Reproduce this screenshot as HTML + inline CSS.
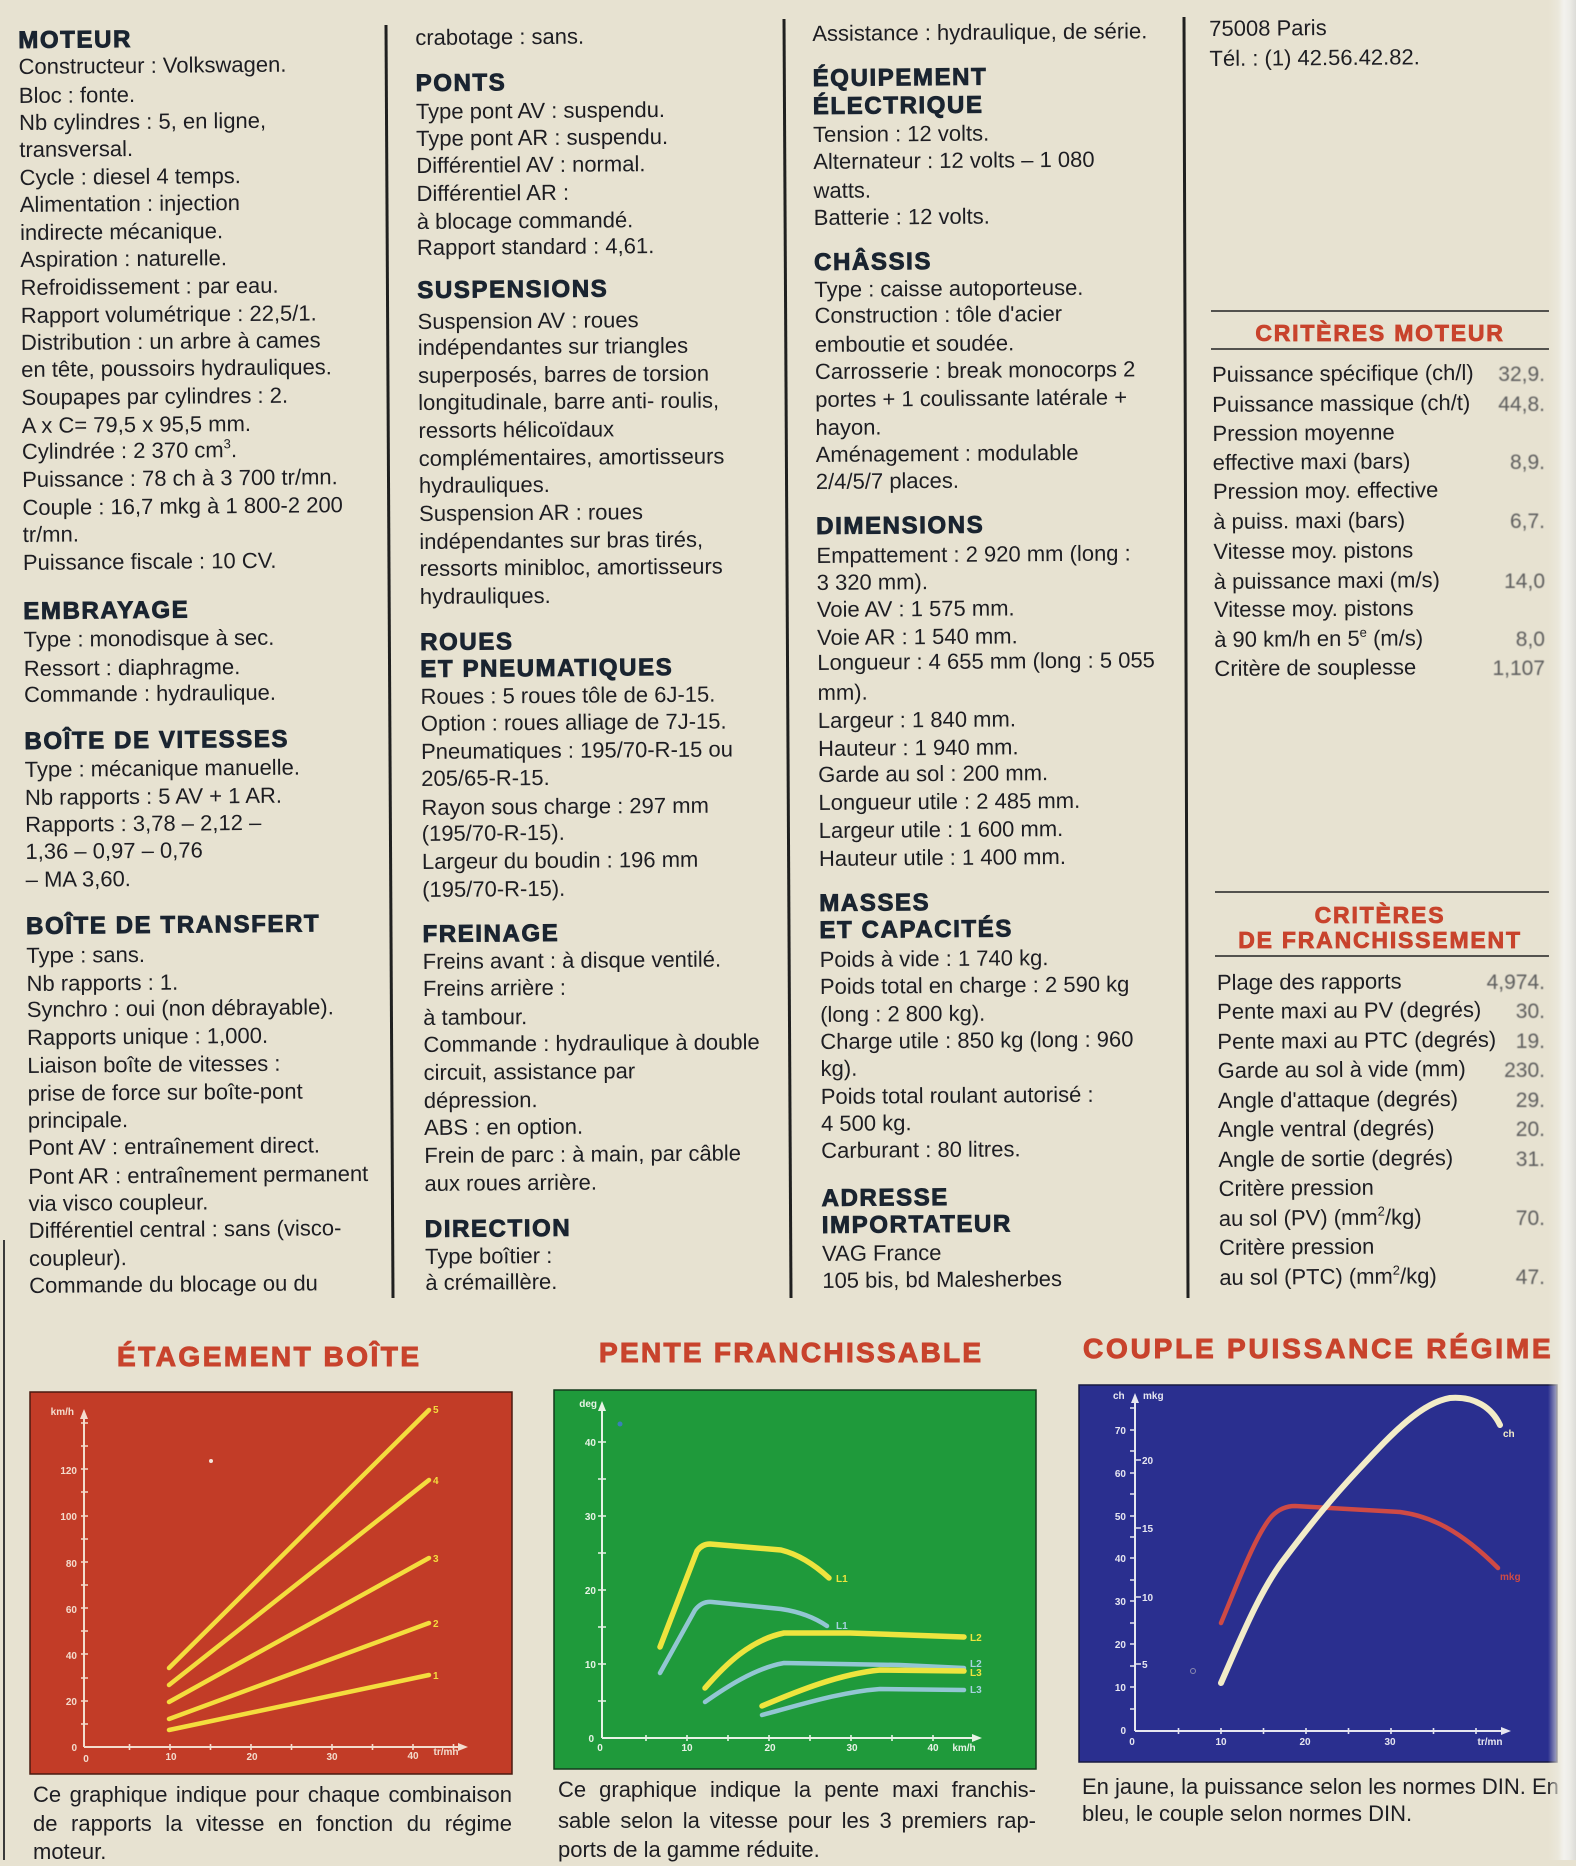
<!DOCTYPE html>
<html><head><meta charset="utf-8">
<style>
html,body{margin:0;padding:0;}
body{width:1576px;height:1860px;overflow:hidden;position:relative;background:#e7e2d1;font-family:"Liberation Sans",sans-serif;}
.c{position:absolute;top:0;transform-origin:0 0;}
.t{position:absolute;left:0;white-space:nowrap;font:22px/28px "Liberation Sans",sans-serif;color:#1d1d22;}
.h{position:absolute;left:0;white-space:nowrap;font:bold 24px/28px "Liberation Sans",sans-serif;letter-spacing:1.6px;color:#1a2430;-webkit-text-stroke:0.9px #1a2430;}
.v{position:absolute;right:31px;white-space:nowrap;font:21px/28px "Liberation Sans",sans-serif;color:#5e5e5e;filter:blur(0.5px);}
.rh{position:absolute;left:1211px;width:338px;text-align:center;white-space:nowrap;font:bold 23px/28px "Liberation Sans",sans-serif;letter-spacing:1.8px;color:#c8432c;-webkit-text-stroke:0.8px #c8432c;}
.ti{position:absolute;white-space:nowrap;font:bold 28px/32px "Liberation Sans",sans-serif;color:#c8432c;-webkit-text-stroke:1px #c8432c;}
.cap{position:absolute;white-space:nowrap;font:22px/29px "Liberation Sans",sans-serif;color:#1d1d22;}
.j{text-align:justify;text-align-last:justify;white-space:normal;}
sup{font-size:13px;line-height:0;vertical-align:9px;}
svg text{font-family:"Liberation Sans",sans-serif;font-weight:bold;}
</style></head><body>

<svg width="1576" height="1860" style="position:absolute;left:0;top:0" xmlns="http://www.w3.org/2000/svg">
<g stroke="#202020" stroke-width="3">
<line x1="386" y1="25" x2="393" y2="1298"/>
<line x1="784" y1="19" x2="791" y2="1298"/>
<line x1="1184" y1="17" x2="1188" y2="1298"/>
</g>
<line x1="4" y1="1240" x2="4" y2="1860" stroke="#3a3a3a" stroke-width="2"/>
<g stroke="#222" stroke-width="1.6">
<line x1="1211" y1="311" x2="1549" y2="311"/>
<line x1="1211" y1="349" x2="1549" y2="349"/>
<line x1="1215" y1="892" x2="1549" y2="892"/>
<line x1="1215" y1="956" x2="1549" y2="956"/>
</g>

<!-- CHART 1 -->
<rect x="30" y="1392" width="482" height="382" fill="#c23c27" stroke="#4a1a10" stroke-width="1.5"/>
<g stroke="#f3dccd" stroke-width="2" fill="none">
<line x1="84" y1="1747" x2="84" y2="1413"/>
<line x1="84" y1="1747" x2="463" y2="1747"/>
<path d="M81,1724H88M81,1701H88M81,1678H88M81,1654H88M81,1631H88M81,1608H88M81,1585H88M81,1562H88M81,1539H88M81,1516H88M81,1492H88M81,1469H88M81,1446H88M81,1423H88" stroke-width="1.6"/>
<path d="M129.5,1744V1750M170,1744V1750M210.5,1744V1750M251,1744V1750M291.5,1744V1750M332,1744V1750M372.5,1744V1750M413,1744V1750M453.5,1744V1750" stroke-width="1.6"/>
</g>
<polygon points="80,1419 84,1409 88,1419" fill="#f3dccd"/>
<polygon points="458,1743 468,1747 458,1751" fill="#f3dccd"/>
<g fill="#f3dccd" font-size="10" text-anchor="end">
<text x="74" y="1415">km/h</text>
<text x="77" y="1751">0</text><text x="77" y="1705">20</text><text x="77" y="1659">40</text><text x="77" y="1613">60</text><text x="77" y="1567">80</text><text x="77" y="1520">100</text><text x="77" y="1474">120</text>
</g>
<g fill="#f3dccd" font-size="10" text-anchor="middle">
<text x="86" y="1762">0</text><text x="171" y="1760">10</text><text x="252" y="1760">20</text><text x="332" y="1760">30</text><text x="413" y="1759">40</text><text x="446" y="1755">tr/mn</text>
</g>
<g stroke="#f4dd3e" stroke-width="4.5" stroke-linecap="round">
<line x1="169" y1="1668" x2="429" y2="1410"/>
<line x1="169" y1="1685" x2="429" y2="1480"/>
<line x1="169" y1="1702" x2="429" y2="1558"/>
<line x1="169" y1="1719" x2="429" y2="1623"/>
<line x1="169" y1="1730" x2="429" y2="1675"/>
</g>
<g fill="#f4dd3e" font-size="10">
<text x="433" y="1413">5</text><text x="433" y="1484">4</text><text x="433" y="1562">3</text><text x="433" y="1627">2</text><text x="433" y="1679">1</text>
</g>
<circle cx="211" cy="1461" r="2" fill="#f4e6dc"/>

<!-- CHART 2 -->
<rect x="554" y="1390" width="482" height="379" fill="#1f9a3b" stroke="#143a1c" stroke-width="1.5"/>
<g stroke="#e8f3e6" stroke-width="2" fill="none">
<line x1="602" y1="1738" x2="602" y2="1405"/>
<line x1="602" y1="1738" x2="977" y2="1738"/>
<path d="M598,1701H606M598,1664H606M598,1627H606M598,1590H606M598,1553H606M598,1516H606M598,1479H606M598,1442H606" stroke-width="1.6"/>
<path d="M646,1735V1741M687,1735V1741M728,1735V1741M769,1735V1741M810,1735V1741M851,1735V1741M892,1735V1741M933,1735V1741" stroke-width="1.6"/>
</g>
<polygon points="598,1411 602,1401 606,1411" fill="#e8f3e6"/>
<polygon points="972,1734 982,1738 972,1742" fill="#e8f3e6"/>
<g fill="#e8f3e6" font-size="10" text-anchor="end">
<text x="597" y="1407">deg</text>
<text x="594" y="1742">0</text><text x="596" y="1668">10</text><text x="596" y="1594">20</text><text x="596" y="1520">30</text><text x="596" y="1446">40</text>
</g>
<g fill="#e8f3e6" font-size="10" text-anchor="middle">
<text x="600" y="1751">0</text><text x="687" y="1751">10</text><text x="770" y="1751">20</text><text x="852" y="1751">30</text><text x="933" y="1751">40</text><text x="964" y="1751">km/h</text>
</g>
<g fill="none" stroke-linecap="round" stroke-linejoin="round">
<path d="M660,1647 L697,1551 Q702,1544 710,1544 L781,1550 Q805,1556 829,1578" stroke="#eee43e" stroke-width="5.5"/>
<path d="M660,1673 L695,1610 Q702,1601 712,1602 L781,1609 Q808,1613 827,1626" stroke="#93c6d3" stroke-width="4.5"/>
<path d="M705,1688 C725,1665 750,1640 784,1633 L850,1633 L964,1637" stroke="#eee43e" stroke-width="5.5"/>
<path d="M705,1702 C725,1688 755,1668 784,1663 L900,1665 L964,1668" stroke="#93c6d3" stroke-width="4.5"/>
<path d="M762,1706 C800,1690 840,1674 880,1670 L964,1671" stroke="#eee43e" stroke-width="5.5"/>
<path d="M762,1715 C800,1705 840,1692 880,1689 L964,1690" stroke="#93c6d3" stroke-width="4.5"/>
</g>
<g font-size="10">
<text x="836" y="1582" fill="#eee43e">L1</text>
<text x="836" y="1629" fill="#a6d3df">L1</text>
<text x="970" y="1641" fill="#eee43e">L2</text>
<text x="970" y="1667" fill="#a6d3df">L2</text>
<text x="970" y="1676" fill="#eee43e">L3</text>
<text x="970" y="1693" fill="#a6d3df">L3</text>
</g>
<circle cx="620" cy="1424" r="2.5" fill="#3a7fb8"/>

<!-- CHART 3 -->
<rect x="1079" y="1385" width="478" height="377" fill="#2a2f8f" stroke="#181a40" stroke-width="1.5"/>
<g stroke="#e6e6f0" stroke-width="2" fill="none">
<line x1="1135" y1="1731" x2="1135" y2="1396"/>
<line x1="1135" y1="1731" x2="1506" y2="1731"/>
<path d="M1130,1709H1135M1130,1687H1135M1130,1666H1135M1130,1644H1135M1130,1623H1135M1130,1601H1135M1130,1580H1135M1130,1558H1135M1130,1537H1135M1130,1516H1135M1130,1494H1135M1130,1473H1135M1130,1451H1135M1130,1430H1135M1130,1408H1135" stroke-width="1.6"/>
<path d="M1135,1664H1141M1135,1597H1141M1135,1528H1141M1135,1460H1141" stroke-width="1.6"/>
<path d="M1178.5,1728V1734M1221,1728V1734M1263.5,1728V1734M1306,1728V1734M1348.5,1728V1734M1391,1728V1734M1433.5,1728V1734M1476,1728V1734" stroke-width="1.6"/>
</g>
<polygon points="1131,1403 1135,1393 1139,1403" fill="#e6e6f0"/>
<polygon points="1501,1727 1511,1731 1501,1735" fill="#e6e6f0"/>
<g fill="#e6e6f0" font-size="10" text-anchor="end">
<text x="1126" y="1734">0</text><text x="1126" y="1691">10</text><text x="1126" y="1648">20</text><text x="1126" y="1605">30</text><text x="1126" y="1562">40</text><text x="1126" y="1520">50</text><text x="1126" y="1477">60</text><text x="1126" y="1434">70</text>
</g>
<g fill="#e6e6f0" font-size="10">
<text x="1142" y="1668">5</text><text x="1142" y="1601">10</text><text x="1142" y="1532">15</text><text x="1142" y="1464">20</text>
<text x="1113" y="1399">ch</text><text x="1143" y="1399">mkg</text>
</g>
<g fill="#e6e6f0" font-size="10" text-anchor="middle">
<text x="1132" y="1745">0</text><text x="1221" y="1745">10</text><text x="1305" y="1745">20</text><text x="1390" y="1745">30</text><text x="1490" y="1745">tr/mn</text>
</g>
<g fill="none" stroke-linecap="round" stroke-linejoin="round">
<path d="M1221,1623 C1235,1590 1255,1535 1272,1516 Q1282,1506 1295,1506 L1330,1508 L1400,1512 C1430,1516 1460,1530 1498,1568" stroke="#cf4a45" stroke-width="4.5"/>
<path d="M1221,1683 C1240,1640 1260,1590 1285,1558 C1310,1525 1330,1500 1360,1468 C1390,1436 1420,1403 1450,1398 C1475,1396 1492,1408 1500,1425" stroke="#f2ecc8" stroke-width="6"/>
</g>
<text x="1503" y="1437" font-size="10" fill="#f2ecc8">ch</text>
<text x="1500" y="1580" font-size="10" fill="#cf4a45">mkg</text>
<circle cx="1193" cy="1671" r="2.5" fill="none" stroke="#8a8ab0" stroke-width="1"/>
</svg>

<!-- COLUMN 1 -->
<div class="c" style="left:18px;transform:rotate(-0.5deg)">
<div class="h" style="top:27px">MOTEUR</div>
<div class="t" style="top:53px">Constructeur : Volkswagen.</div>
<div class="t" style="top:82px">Bloc : fonte.</div>
<div class="t" style="top:109px">Nb cylindres : 5, en ligne,</div>
<div class="t" style="top:136px">transversal.</div>
<div class="t" style="top:164px">Cycle : diesel 4 temps.</div>
<div class="t" style="top:191px">Alimentation : injection</div>
<div class="t" style="top:219px">indirecte mécanique.</div>
<div class="t" style="top:246px">Aspiration : naturelle.</div>
<div class="t" style="top:274px">Refroidissement : par eau.</div>
<div class="t" style="top:302px">Rapport volumétrique : 22,5/1.</div>
<div class="t" style="top:329px">Distribution : un arbre à cames</div>
<div class="t" style="top:356px">en tête, poussoirs hydrauliques.</div>
<div class="t" style="top:384px">Soupapes par cylindres : 2.</div>
<div class="t" style="top:412px">A x C= 79,5 x 95,5 mm.</div>
<div class="t" style="top:438px">Cylindrée : 2 370 cm<sup>3</sup>.</div>
<div class="t" style="top:466px">Puissance : 78 ch à 3 700 tr/mn.</div>
<div class="t" style="top:494px">Couple : 16,7 mkg à 1 800-2 200</div>
<div class="t" style="top:521px">tr/mn.</div>
<div class="t" style="top:549px">Puissance fiscale : 10 CV.</div>
<div class="h" style="top:598px">EMBRAYAGE</div>
<div class="t" style="top:626px">Type : monodisque à sec.</div>
<div class="t" style="top:655px">Ressort : diaphragme.</div>
<div class="t" style="top:681px">Commande : hydraulique.</div>
<div class="h" style="top:728px">BOÎTE DE VITESSES</div>
<div class="t" style="top:756px">Type : mécanique manuelle.</div>
<div class="t" style="top:784px">Nb rapports : 5 AV + 1 AR.</div>
<div class="t" style="top:811px">Rapports : 3,78 – 2,12 –</div>
<div class="t" style="top:838px">1,36 – 0,97 – 0,76</div>
<div class="t" style="top:866px">– MA 3,60.</div>
<div class="h" style="top:913px">BOÎTE DE TRANSFERT</div>
<div class="t" style="top:942px">Type : sans.</div>
<div class="t" style="top:970px">Nb rapports : 1.</div>
<div class="t" style="top:996px">Synchro : oui (non débrayable).</div>
<div class="t" style="top:1024px">Rapports unique : 1,000.</div>
<div class="t" style="top:1052px">Liaison boîte de vitesses :</div>
<div class="t" style="top:1080px">prise de force sur boîte-pont</div>
<div class="t" style="top:1107px">principale.</div>
<div class="t" style="top:1134px">Pont AV : entraînement direct.</div>
<div class="t" style="top:1163px">Pont AR : entraînement permanent</div>
<div class="t" style="top:1190px">via visco coupleur.</div>
<div class="t" style="top:1217px">Différentiel central : sans (visco-</div>
<div class="t" style="top:1245px">coupleur).</div>
<div class="t" style="top:1272px">Commande du blocage ou du</div>
</div>

<!-- COLUMN 2 -->
<div class="c" style="left:415px;transform:rotate(-0.46deg)">
<div class="t" style="top:24px">crabotage : sans.</div>
<div class="h" style="top:70px">PONTS</div>
<div class="t" style="top:98px">Type pont AV : suspendu.</div>
<div class="t" style="top:125px">Type pont AR : suspendu.</div>
<div class="t" style="top:152px">Différentiel AV : normal.</div>
<div class="t" style="top:180px">Différentiel AR :</div>
<div class="t" style="top:208px">à blocage commandé.</div>
<div class="t" style="top:234px">Rapport standard : 4,61.</div>
<div class="h" style="top:277px">SUSPENSIONS</div>
<div class="t" style="top:308px">Suspension AV : roues</div>
<div class="t" style="top:334px">indépendantes sur triangles</div>
<div class="t" style="top:362px">superposés, barres de torsion</div>
<div class="t" style="top:389px">longitudinale, barre anti- roulis,</div>
<div class="t" style="top:417px">ressorts hélicoïdaux</div>
<div class="t" style="top:445px">complémentaires, amortisseurs</div>
<div class="t" style="top:472px">hydrauliques.</div>
<div class="t" style="top:500px">Suspension AR : roues</div>
<div class="t" style="top:528px">indépendantes sur bras tirés,</div>
<div class="t" style="top:555px">ressorts minibloc, amortisseurs</div>
<div class="t" style="top:583px">hydrauliques.</div>
<div class="h" style="top:629px">ROUES</div>
<div class="h" style="top:656px">ET PNEUMATIQUES</div>
<div class="t" style="top:683px">Roues : 5 roues tôle de 6J-15.</div>
<div class="t" style="top:710px">Option : roues alliage de 7J-15.</div>
<div class="t" style="top:738px">Pneumatiques : 195/70-R-15 ou</div>
<div class="t" style="top:765px">205/65-R-15.</div>
<div class="t" style="top:794px">Rayon sous charge : 297 mm</div>
<div class="t" style="top:820px">(195/70-R-15).</div>
<div class="t" style="top:848px">Largeur du boudin : 196 mm</div>
<div class="t" style="top:876px">(195/70-R-15).</div>
<div class="h" style="top:921px">FREINAGE</div>
<div class="t" style="top:948px">Freins avant : à disque ventilé.</div>
<div class="t" style="top:975px">Freins arrière :</div>
<div class="t" style="top:1004px">à tambour.</div>
<div class="t" style="top:1031px">Commande : hydraulique à double</div>
<div class="t" style="top:1059px">circuit, assistance par</div>
<div class="t" style="top:1087px">dépression.</div>
<div class="t" style="top:1114px">ABS : en option.</div>
<div class="t" style="top:1142px">Frein de parc : à main, par câble</div>
<div class="t" style="top:1170px">aux roues arrière.</div>
<div class="h" style="top:1216px">DIRECTION</div>
<div class="t" style="top:1243px">Type boîtier :</div>
<div class="t" style="top:1269px">à crémaillère.</div>
</div>

<!-- COLUMN 3 -->
<div class="c" style="left:812px;transform:rotate(-0.46deg)">
<div class="t" style="top:20px">Assistance : hydraulique, de série.</div>
<div class="h" style="top:65px">ÉQUIPEMENT</div>
<div class="h" style="top:93px">ÉLECTRIQUE</div>
<div class="t" style="top:121px">Tension : 12 volts.</div>
<div class="t" style="top:148px">Alternateur : 12 volts – 1 080</div>
<div class="t" style="top:177px">watts.</div>
<div class="t" style="top:204px">Batterie : 12 volts.</div>
<div class="h" style="top:249px">CHÂSSIS</div>
<div class="t" style="top:276px">Type : caisse autoporteuse.</div>
<div class="t" style="top:302px">Construction : tôle d'acier</div>
<div class="t" style="top:331px">emboutie et soudée.</div>
<div class="t" style="top:358px">Carrosserie : break monocorps 2</div>
<div class="t" style="top:386px">portes + 1 coulissante latérale +</div>
<div class="t" style="top:414px">hayon.</div>
<div class="t" style="top:441px">Aménagement : modulable</div>
<div class="t" style="top:468px">2/4/5/7 places.</div>
<div class="h" style="top:513px">DIMENSIONS</div>
<div class="t" style="top:542px">Empattement : 2 920 mm (long :</div>
<div class="t" style="top:569px">3 320 mm).</div>
<div class="t" style="top:596px">Voie AV : 1 575 mm.</div>
<div class="t" style="top:624px">Voie AR : 1 540 mm.</div>
<div class="t" style="top:649px">Longueur : 4 655 mm (long : 5 055</div>
<div class="t" style="top:679px">mm).</div>
<div class="t" style="top:707px">Largeur : 1 840 mm.</div>
<div class="t" style="top:735px">Hauteur : 1 940 mm.</div>
<div class="t" style="top:761px">Garde au sol : 200 mm.</div>
<div class="t" style="top:789px">Longueur utile : 2 485 mm.</div>
<div class="t" style="top:817px">Largeur utile : 1 600 mm.</div>
<div class="t" style="top:845px">Hauteur utile : 1 400 mm.</div>
<div class="h" style="top:890px">MASSES</div>
<div class="h" style="top:917px">ET CAPACITÉS</div>
<div class="t" style="top:946px">Poids à vide : 1 740 kg.</div>
<div class="t" style="top:973px">Poids total en charge : 2 590 kg</div>
<div class="t" style="top:1001px">(long : 2 800 kg).</div>
<div class="t" style="top:1028px">Charge utile : 850 kg (long : 960</div>
<div class="t" style="top:1055px">kg).</div>
<div class="t" style="top:1083px">Poids total roulant autorisé :</div>
<div class="t" style="top:1110px">4 500 kg.</div>
<div class="t" style="top:1137px">Carburant : 80 litres.</div>
<div class="h" style="top:1185px">ADRESSE</div>
<div class="h" style="top:1212px">IMPORTATEUR</div>
<div class="t" style="top:1240px">VAG France</div>
<div class="t" style="top:1267px">105 bis, bd Malesherbes</div>
</div>

<!-- COLUMN 4 -->
<div class="c" style="left:1209px;transform:rotate(-0.46deg)">
<div class="t" style="top:15px">75008 Paris</div>
<div class="t" style="top:45px">Tél. : (1) 42.56.42.82.</div>
<div class="t" style="top:361px">Puissance spécifique (ch/l)</div>
<div class="t" style="top:391px">Puissance massique (ch/t)</div>
<div class="t" style="top:420px">Pression moyenne</div>
<div class="t" style="top:449px">effective maxi (bars)</div>
<div class="t" style="top:478px">Pression moy. effective</div>
<div class="t" style="top:508px">à puiss. maxi (bars)</div>
<div class="t" style="top:538px">Vitesse moy. pistons</div>
<div class="t" style="top:568px">à puissance maxi (m/s)</div>
<div class="t" style="top:596px">Vitesse moy. pistons</div>
<div class="t" style="top:626px">à 90 km/h en 5<sup>e</sup> (m/s)</div>
<div class="t" style="top:655px">Critère de souplesse</div>
<div class="t" style="top:969px">Plage des rapports</div>
<div class="t" style="top:998px">Pente maxi au PV (degrés)</div>
<div class="t" style="top:1028px">Pente maxi au PTC (degrés)</div>
<div class="t" style="top:1057px">Garde au sol à vide (mm)</div>
<div class="t" style="top:1087px">Angle d'attaque (degrés)</div>
<div class="t" style="top:1116px">Angle ventral (degrés)</div>
<div class="t" style="top:1146px">Angle de sortie (degrés)</div>
<div class="t" style="top:1175px">Critère pression</div>
<div class="t" style="top:1205px">au sol (PV) (mm<sup>2</sup>/kg)</div>
<div class="t" style="top:1234px">Critère pression</div>
<div class="t" style="top:1264px">au sol (PTC) (mm<sup>2</sup>/kg)</div>
</div>

<div class="rh" style="top:319px">CRITÈRES MOTEUR</div>
<div class="rh" style="top:901px">CRITÈRES</div>
<div class="rh" style="top:926px">DE FRANCHISSEMENT</div>

<div class="v" style="top:361px">32,9.</div>
<div class="v" style="top:391px">44,8.</div>
<div class="v" style="top:449px">8,9.</div>
<div class="v" style="top:508px">6,7.</div>
<div class="v" style="top:568px">14,0</div>
<div class="v" style="top:626px">8,0</div>
<div class="v" style="top:655px">1,107</div>
<div class="v" style="top:969px">4,974.</div>
<div class="v" style="top:998px">30.</div>
<div class="v" style="top:1028px">19.</div>
<div class="v" style="top:1057px">230.</div>
<div class="v" style="top:1087px">29.</div>
<div class="v" style="top:1116px">20.</div>
<div class="v" style="top:1146px">31.</div>
<div class="v" style="top:1205px">70.</div>
<div class="v" style="top:1264px">47.</div>

<div class="ti" style="left:117px;top:1341px;letter-spacing:2.5px">ÉTAGEMENT BOÎTE</div>
<div class="ti" style="left:599px;top:1337px;letter-spacing:2.3px">PENTE FRANCHISSABLE</div>
<div class="ti" style="left:1083px;top:1333px;letter-spacing:2.8px">COUPLE PUISSANCE RÉGIME</div>

<div class="cap j" style="left:33px;top:1780px;width:479px">Ce graphique indique pour chaque combinaison</div>
<div class="cap j" style="left:33px;top:1809px;width:479px">de rapports la vitesse en fonction du régime</div>
<div class="cap" style="left:33px;top:1837px">moteur.</div>
<div class="cap j" style="left:558px;top:1775px;width:478px">Ce graphique indique la pente maxi franchis-</div>
<div class="cap j" style="left:558px;top:1806px;width:478px">sable selon la vitesse pour les 3 premiers rap-</div>
<div class="cap" style="left:558px;top:1835px">ports de la gamme réduite.</div>
<div class="cap" style="left:1082px;top:1772px">En jaune, la puissance selon les normes DIN. En</div>
<div class="cap" style="left:1082px;top:1799px">bleu, le couple selon normes DIN.</div>

<div style="position:absolute;left:1548px;top:0;width:28px;height:1860px;background:linear-gradient(to right,rgba(231,226,209,0) 0px,rgba(236,233,222,0.7) 10px,#f3f2ee 16px,#ecebe6 22px,#dcdcd8 28px)"></div>
</body></html>
